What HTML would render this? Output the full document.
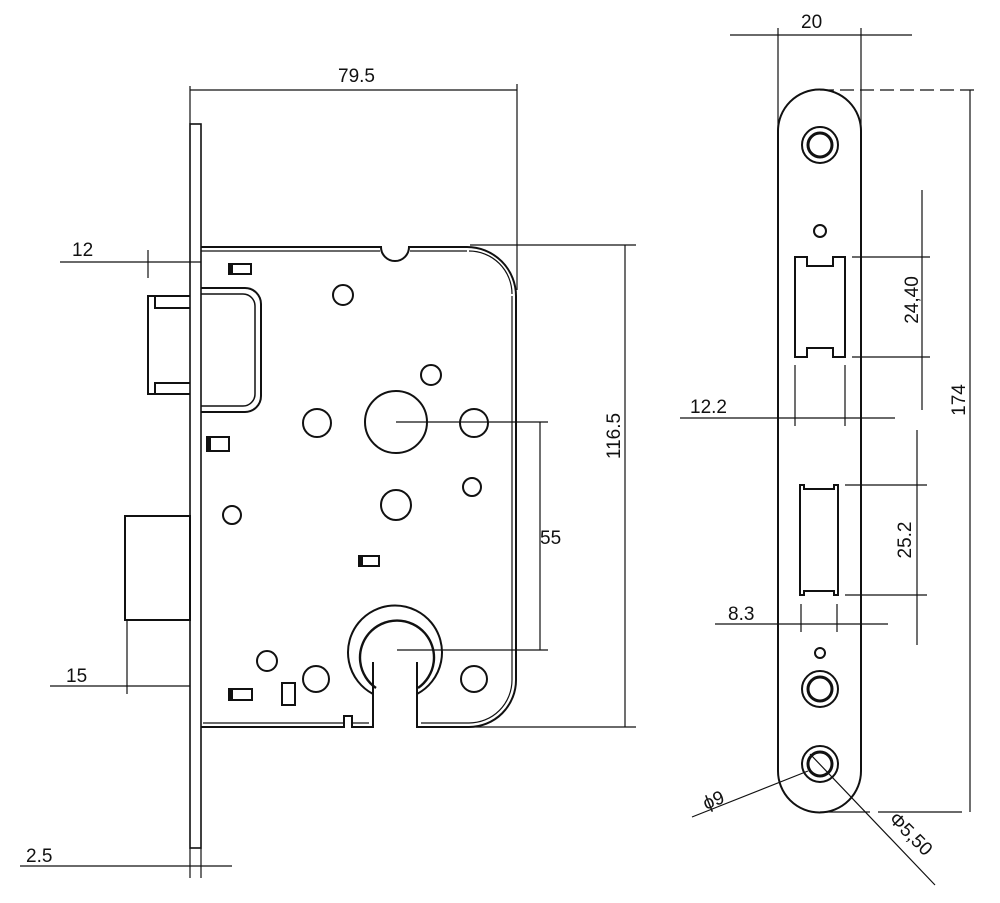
<!DOCTYPE html>
<html><head><style>body{margin:0;background:#fff}svg{display:block}text{font-family:"Liberation Sans",sans-serif;font-size:19px;fill:#111;stroke:none}</style></head>
<body>
<svg width="1000" height="903" viewBox="0 0 1000 903" xmlns="http://www.w3.org/2000/svg" fill="none" stroke="#111" stroke-width="1.6">
<rect x="190" y="124" width="11" height="724"/>
<path d="M201 247 H381 A14 14 0 0 0 409 247 H467 A49 49 0 0 1 516 296 V680 A47 47 0 0 1 469 727 H417 V662 M373 662 V727 H352 V716 H344 V727 H201" stroke-width="2"/>
<path d="M201 251 H380 M410 251 H467 M512 296 V680 A43 43 0 0 1 469 723 H421 M369 723 H352 M344 723 H203" stroke-width="1.2"/>
<path d="M469 251 A43 43 0 0 1 512 294" stroke-width="1.2"/>
<path d="M190 296 H148 V394 H190 M155 296 V308 H190 M155 394 V383 H190" stroke-width="2"/>
<path d="M201 288 H245 A16 16 0 0 1 261 304 V396 A16 16 0 0 1 245 412 H201" stroke-width="2"/>
<path d="M201 294 H243 A12 12 0 0 1 255 306 V394 A12 12 0 0 1 243 406 H201" stroke-width="1.5"/>
<rect x="125" y="516" width="65" height="104" stroke-width="2"/>
<g stroke-width="2">
<circle cx="343" cy="295" r="10"/>
<circle cx="431" cy="375" r="10"/>
<circle cx="396" cy="422" r="31"/>
<circle cx="317" cy="423" r="14"/>
<circle cx="474" cy="423" r="14"/>
<circle cx="472" cy="487" r="9"/>
<circle cx="396" cy="505" r="15"/>
<circle cx="232" cy="515" r="9"/>
<circle cx="267" cy="661" r="10"/>
<circle cx="316" cy="679" r="13"/>
<circle cx="474" cy="679" r="13"/>
<path d="M373 694 A47 47 0 1 1 417 694"/>
<path d="M376 688 A37 37 0 1 1 418 688" stroke-width="2.4"/>
<rect x="229" y="264" width="22" height="10"/>
<rect x="207" y="437" width="22" height="14"/>
<rect x="359" y="556" width="20" height="10"/>
<rect x="229" y="689" width="23" height="11"/>
<rect x="282" y="683" width="13" height="22"/>
</g>
<g fill="#111" stroke="none">
<rect x="229" y="264" width="4" height="10"/><rect x="207" y="437" width="4" height="14"/><rect x="359" y="556" width="4" height="10"/><rect x="229" y="689" width="4" height="11"/>
</g>
<g stroke-width="1.2">
<path d="M190 86 V124 M517 84 V290 M190 90 H517"/>
<path d="M60 262 H201 M148 250 V278"/>
<path d="M470 245 H636 M470 727 H636 M625 245 V727"/>
<path d="M396 422 H548 M397 650 H548 M540 422 V650"/>
<path d="M50 686 H190 M127 620 V694"/>
<path d="M20 866 H232 M190 848 V878 M201 848 V878"/>
</g>
<text x="338" y="82">79.5</text>
<text x="72" y="256">12</text>
<text x="540" y="544">55</text>
<text x="66" y="682">15</text>
<text x="26" y="862">2.5</text>
<text transform="translate(620,436) rotate(-90)" text-anchor="middle">116.5</text>
<path d="M778 131 A41.5 41.5 0 0 1 861 131 V771 A41.5 41.5 0 0 1 778 771 Z" stroke-width="2"/>
<g stroke-width="1.2">
<path d="M778 28 V131 M861 28 V131 M730 35 H912"/>
<path d="M820 90 H980" stroke-dasharray="14,6"/>
<path d="M820 812 H870 M878 812 H962 M970 90 V812"/>
<path d="M852 257 H930 M852 357 H930 M922 190 V410"/>
<path d="M680 418 H895 M795 365 V426 M845 365 V426"/>
<path d="M845 485 H927 M845 595 H927 M917 430 V645"/>
<path d="M715 624 H888 M801 604 V632 M837 604 V632"/>
<path d="M692 817 L808 771 M810 754 L935 885"/>
</g>
<g stroke-width="2">
<circle cx="820" cy="145" r="18"/><circle cx="820" cy="145" r="12" stroke-width="3"/>
<circle cx="820" cy="231" r="6"/>
<path d="M795 257 H807 V266 H833 V257 H845 V357 H833 V348 H807 V357 H795 Z"/>
<path d="M800 485 H804 V489 H834 V485 H838 V595 H834 V591 H804 V595 H800 Z"/>
<circle cx="820" cy="653" r="5"/>
<circle cx="820" cy="689" r="18"/><circle cx="820" cy="689" r="12" stroke-width="3"/>
<circle cx="820" cy="764" r="18"/><circle cx="820" cy="764" r="12" stroke-width="3"/>
</g>
<text x="801" y="28">20</text>
<text x="690" y="413">12.2</text>
<text x="728" y="620">8.3</text>
<text transform="translate(965,400) rotate(-90)" text-anchor="middle">174</text>
<text transform="translate(918,300) rotate(-90)" text-anchor="middle">24,40</text>
<text transform="translate(911,540) rotate(-90)" text-anchor="middle">25.2</text>
<text transform="translate(706,810) rotate(-22)" font-size="22">ϕ9</text>
<text transform="translate(888,820) rotate(45)" font-size="21">Φ5,50</text>
</svg>
</body></html>
